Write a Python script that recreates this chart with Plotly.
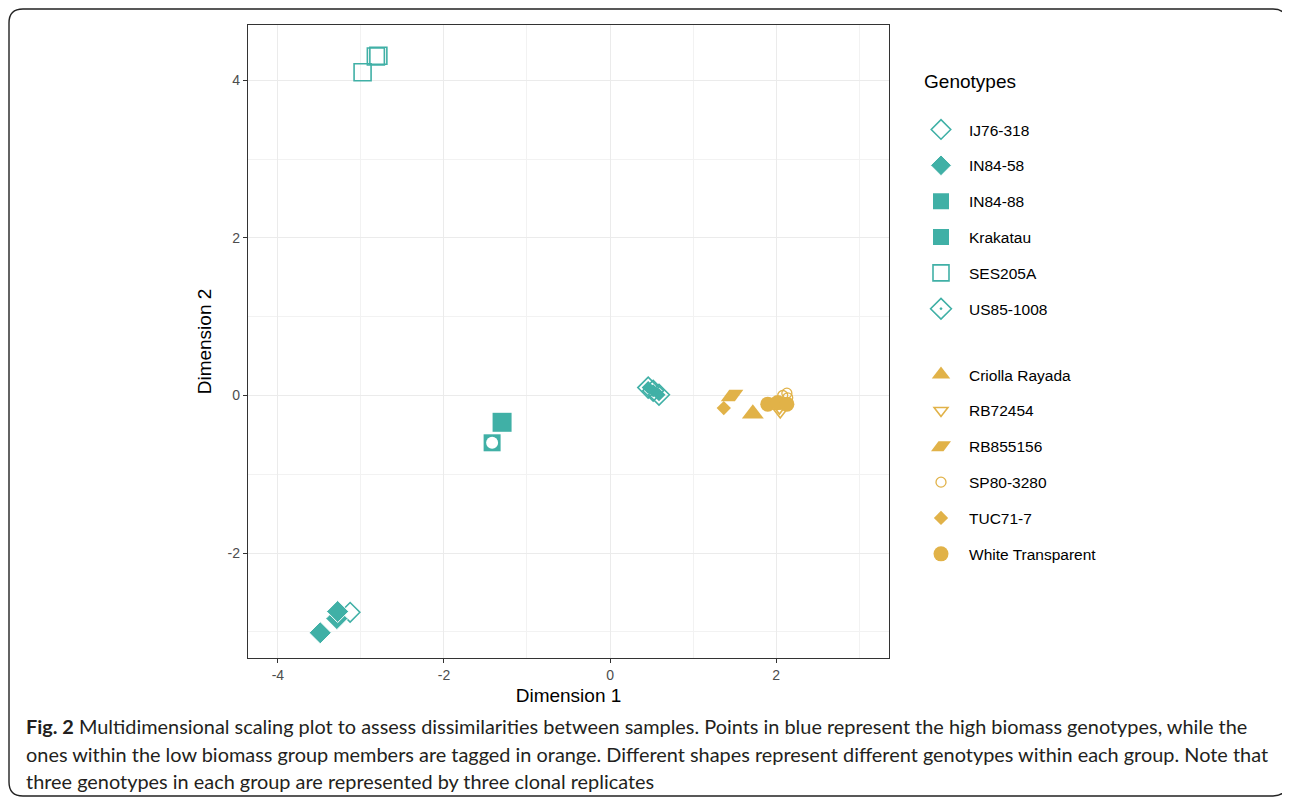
import plotly.graph_objects as go

TEAL = "#40B0A6"
GOLD = "#E1B248"

# ---- data (Dimension 1, Dimension 2) ----
ij76_318_x = [-3.13]
ij76_318_y = [-2.75]
in84_58_x = [-3.49, -3.29, -3.28]
in84_58_y = [-3.01, -2.83, -2.74]
in84_88_x = [-1.42]
in84_88_y = [-0.60]
krakatau_x = [-1.30]
krakatau_y = [-0.34]
ses205a_x = [-2.98, -2.82, -2.79]
ses205a_y = [4.10, 4.30, 4.31]
us85_1008_x = [0.46, 0.52, 0.59]
us85_1008_y = [0.10, 0.06, 0.01]

criolla_x = [1.72]
criolla_y = [-0.23]
rb72454_x = [2.02, 2.04, 2.05]
rb72454_y = [-0.10, -0.16, -0.21]
rb855156_x = [1.47]
rb855156_y = [0.00]
sp80_3280_x = [2.08, 2.13, 2.14]
sp80_3280_y = [0.00, 0.03, -0.03]
tuc71_7_x = [1.37]
tuc71_7_y = [-0.16]
white_tr_x = [1.90, 2.02, 2.13]
white_tr_y = [-0.11, -0.09, -0.11]

x_ticks = [-4, -2, 0, 2]
x_tick_labels = ["-4", "-2", "0", "2"]
y_ticks = [-2, 0, 2, 4]
y_tick_labels = ["-2", "0", "2", "4"]

FONT = "Liberation Sans, Arial, sans-serif"

fig = go.Figure()


def add(name, x, y, symbol, color, size, lw=1.5, lcolor=None, angle=0, group=None,
        showlegend=True, legend="legend"):
    fig.add_trace(go.Scatter(
        x=x, y=y, mode="markers", name=name, legend=legend,
        legendgroup=group or name, showlegend=showlegend,
        marker=dict(symbol=symbol, color=color, size=size, angle=angle,
                    line=dict(width=lw, color=lcolor or color)),
    ))


add("IJ76-318", ij76_318_x, ij76_318_y, "diamond-open", TEAL, 15, 1.6)
add("IN84-58", in84_58_x, in84_58_y, "diamond", TEAL, 17, 1, "white")
add("IN84-88", in84_88_x, in84_88_y, "square", TEAL, 17, 0)
add("Krakatau", krakatau_x, krakatau_y, "square", TEAL, 19, 0)
add("SES205A", ses205a_x, ses205a_y, "square-open", TEAL, 17, 1.6)
add("US85-1008", us85_1008_x, us85_1008_y, "diamond-open-dot", TEAL, 16, 1.6)

L2 = "legend2"
add("Criolla Rayada", criolla_x, criolla_y, "triangle-up", GOLD, 19, 0, legend=L2)
add("RB72454", rb72454_x, rb72454_y, "triangle-down-open", GOLD, 12, 1.6, legend=L2)
add("RB855156", rb855156_x, rb855156_y, "diamond-wide", GOLD, 18, 0, angle=-26.57, legend=L2)
add("SP80-3280", sp80_3280_x, sp80_3280_y, "circle-open", GOLD, 10, 1.3, legend=L2)
add("TUC71-7", tuc71_7_x, tuc71_7_y, "diamond", GOLD, 11, 0, legend=L2)
add("White Transparent", white_tr_x, white_tr_y, "circle", GOLD, 15, 0, legend=L2)

# overlays completing composite shapes
add("IN84-88", in84_88_x, in84_88_y, "circle", "white", 12, 0, group="IN84-88", showlegend=False)
add("US85-1008", us85_1008_x, us85_1008_y, "diamond", TEAL, 10, 0, group="US85-1008", showlegend=False)

axis_common = dict(
    showgrid=True, gridcolor="#EBEBEB", gridwidth=1.1,
    zeroline=False, showline=True, mirror=True,
    linecolor="#333333", linewidth=1.3,
    ticks="outside", ticklen=4, tickwidth=1, tickcolor="#333333",
    tickfont=dict(family=FONT, size=14, color="#4D4D4D"),
    minor=dict(showgrid=True, gridcolor="#F2F2F2", gridwidth=0.6, dtick=1, ticks=""),
)

fig.update_xaxes(range=[-4.36, 3.36], tickvals=x_ticks, ticktext=x_tick_labels,
                 title=dict(text="Dimension 1", font=dict(family=FONT, size=19, color="black"), standoff=6),
                 **axis_common)
fig.update_yaxes(range=[-3.33, 4.70], tickvals=y_ticks, ticktext=y_tick_labels,
                 title=dict(text="Dimension 2", font=dict(family=FONT, size=19, color="black"), standoff=10),
                 **axis_common)

# page body adds an 8px offset; work in reference pixel coords minus 8
OFF = 8
W, H = 1282, 791
L, T = 248 - OFF, 25 - OFF
R = W - (889 - OFF)
B = H - (658 - OFF)
pw, ph = W - L - R, H - T - B


def px(xp):
    return (xp - OFF - L) / pw


def py(yp):
    return (H - B - (yp - OFF)) / ph


# outer figure frame with rounded corners
r = 14
x0, x1, y0, y1 = 9, 1287, 9, 796
path = (f"M {px(x0 + r)},{py(y0)} L {px(x1 - r)},{py(y0)} "
        f"Q {px(x1)},{py(y0)} {px(x1)},{py(y0 + r)} "
        f"L {px(x1)},{py(y1 - r)} Q {px(x1)},{py(y1)} {px(x1 - r)},{py(y1)} "
        f"L {px(x0 + r)},{py(y1)} Q {px(x0)},{py(y1)} {px(x0)},{py(y1 - r)} "
        f"L {px(x0)},{py(y0 + r)} Q {px(x0)},{py(y0)} {px(x0 + r)},{py(y0)} Z")
fig.add_shape(type="path", path=path, xref="paper", yref="paper",
              line=dict(color="#222222", width=1.4), layer="below")

caption = [
    "<b>Fig. 2</b> Multidimensional scaling plot to assess dissimilarities between samples. Points in blue represent the high biomass genotypes, while the",
    "ones within the low biomass group members are tagged in orange. Different shapes represent different genotypes within each group. Note that",
    "three genotypes in each group are represented by three clonal replicates",
]
for i, line in enumerate(caption):
    fig.add_annotation(text=line, xref="paper", yref="paper",
                       x=px(24), y=py(726 + 27.5 * i), xanchor="left", yanchor="middle",
                       showarrow=False, align="left",
                       font=dict(family="Lato, Open Sans, sans-serif", size=19.9, color="#231F20"))

leg_common = dict(
    xanchor="left", yanchor="top",
    font=dict(family=FONT, size=15.5, color="black"),
    tracegroupgap=12.7, itemsizing="trace", itemwidth=46, bgcolor="rgba(0,0,0,0)",
)

fig.update_layout(
    width=W, height=H,
    margin=dict(l=L, r=R, t=T, b=B),
    paper_bgcolor="white", plot_bgcolor="white",
    showlegend=True,
    legend=dict(
        x=px(913), y=py(63.5),
        title=dict(text="&nbsp;\u2009Genotypes<br> ", font=dict(family=FONT, size=19, color="black")),
        **leg_common,
    ),
    legend2=dict(x=px(913), y=py(358), **leg_common),
)

fig.write_html("out.html")
